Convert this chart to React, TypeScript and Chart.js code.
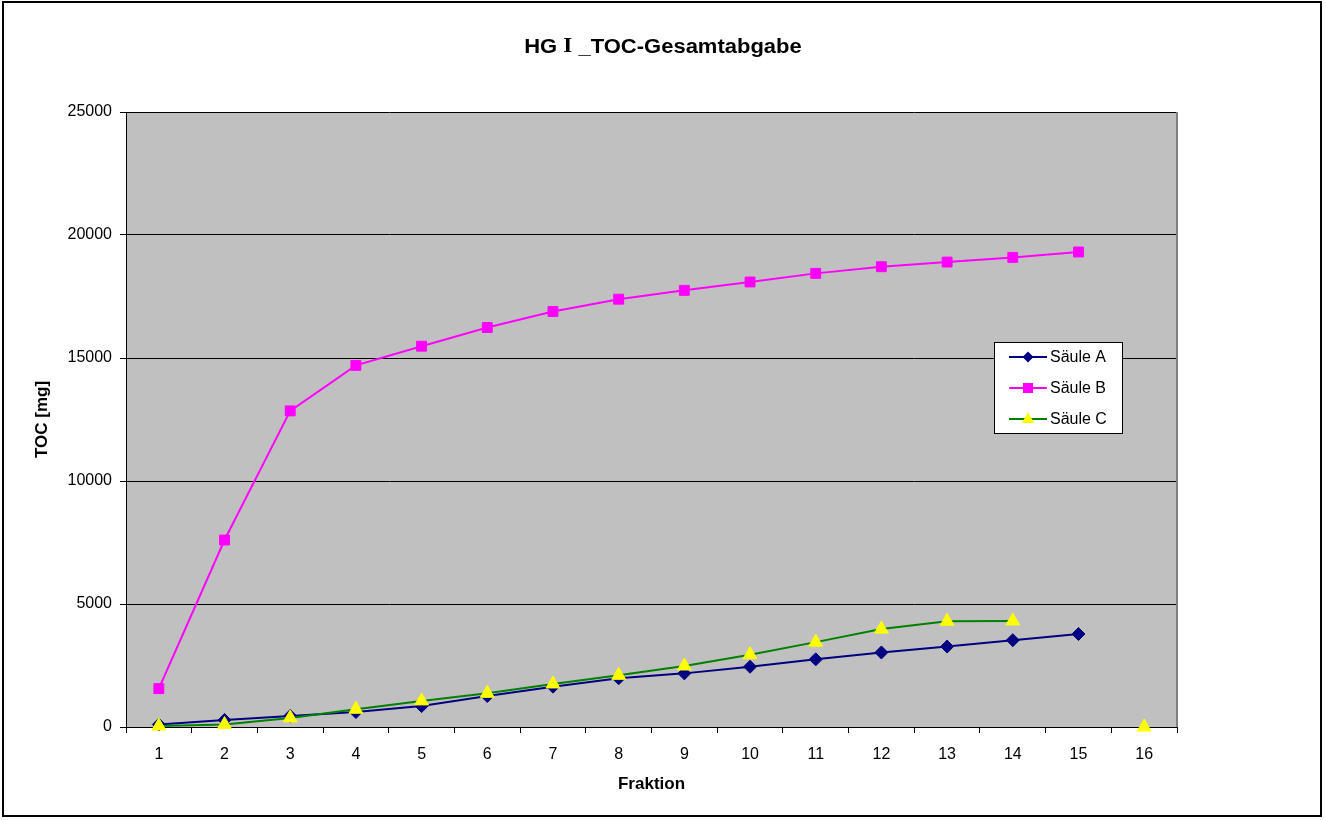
import React, { useEffect, useRef } from 'react';
import { Chart, registerables } from 'chart.js';

Chart.register(...registerables);

const categories = ['1', '2', '3', '4', '5', '6', '7', '8', '9', '10', '11', '12', '13', '14', '15', '16'];
const saeuleA = [100, 285, 450, 610, 850, 1260, 1640, 1980, 2180, 2450, 2750, 3030, 3270, 3530, 3780, null];
const saeuleB = [1560, 7600, 12850, 14700, 15480, 16240, 16890, 17390, 17750, 18090, 18440, 18710, 18900, 19090, 19310, null];
const saeuleC = [40, 100, 370, 720, 1060, 1370, 1750, 2100, 2480, 2940, 3450, 3980, 4300, 4310, null, 0];
const yTickValues = [0, 5000, 10000, 15000, 20000, 25000];
const seriesNames = ['Säule A', 'Säule B', 'Säule C'];
const titleParts = ['HG ', 'I', ' _TOC-Gesamtabgabe'];
const xTitle = 'Fraktion';
const yTitle = 'TOC [mg]';

const FONT = '"Liberation Sans", Arial, sans-serif';
const SERIF = '"Liberation Serif", "Times New Roman", serif';

const lineColors = ['#000080', '#FF00FF', '#008000'];
const markerColors = ['#000080', '#FF00FF', '#FFFF00'];
const markerStyles = ['rectRot', 'rect', 'triangle'];

function drawMarker(ctx: CanvasRenderingContext2D, style: string, x: number, y: number, color: string) {
  ctx.save();
  ctx.fillStyle = color;
  ctx.beginPath();
  if (style === 'rectRot') {
    const r = 5.5;
    ctx.moveTo(x, y - r);
    ctx.lineTo(x + r, y);
    ctx.lineTo(x, y + r);
    ctx.lineTo(x - r, y);
    ctx.closePath();
  } else if (style === 'rect') {
    const s = 5;
    ctx.rect(x - s, y - s, 2 * s, 2 * s);
  } else {
    const r = 6.5;
    ctx.moveTo(x, y - r);
    ctx.lineTo(x + r * 0.95, y + r * 0.6);
    ctx.lineTo(x - r * 0.95, y + r * 0.6);
    ctx.closePath();
  }
  ctx.fill();
  ctx.restore();
}

const framePlugin = {
  id: 'frame',
  beforeDraw(chart: any) {
    const { ctx, chartArea } = chart;
    ctx.save();
    ctx.fillStyle = '#FFFFFF';
    ctx.fillRect(0, 0, chart.width, chart.height);
    ctx.strokeStyle = '#000000';
    ctx.lineWidth = 2;
    ctx.strokeRect(3, 2, 1318, 814);
    ctx.fillStyle = '#C0C0C0';
    ctx.fillRect(chartArea.left, chartArea.top, chartArea.right - chartArea.left, chartArea.bottom - chartArea.top);
    ctx.restore();
  },
  beforeDatasetsDraw(chart: any) {
    const { ctx, chartArea } = chart;
    ctx.save();
    ctx.strokeStyle = '#808080';
    ctx.lineWidth = 2;
    ctx.beginPath();
    ctx.moveTo(chartArea.right, chartArea.top);
    ctx.lineTo(chartArea.right, chartArea.bottom);
    ctx.stroke();
    ctx.restore();
  },
  afterDraw(chart: any) {
    const { ctx } = chart;
    ctx.save();
    const fonts = [`bold 20px ${FONT}`, `bold 21px ${SERIF}`, `bold 20px ${FONT}`];
    let total = 0;
    const widths = titleParts.map((t, i) => {
      ctx.font = fonts[i];
      const w = ctx.measureText(t).width;
      total += w;
      return w;
    });
    const sx = 1.1;
    const cx = chart.width / 2;
    ctx.translate(cx, 47);
    ctx.scale(sx, 1);
    let x = -total / 2;
    ctx.fillStyle = '#000000';
    ctx.textBaseline = 'middle';
    ctx.textAlign = 'left';
    titleParts.forEach((t, i) => {
      ctx.font = fonts[i];
      ctx.fillText(t, x, 0);
      x += widths[i];
    });
    ctx.restore();
  },
};

const legendPlugin = {
  id: 'customLegend',
  afterDraw(chart: any) {
    const { ctx } = chart;
    const left = 994;
    const top = 342;
    const w = 128;
    const h = 91;
    ctx.save();
    ctx.fillStyle = '#FFFFFF';
    ctx.fillRect(left, top, w, h);
    ctx.strokeStyle = '#000000';
    ctx.lineWidth = 1;
    ctx.strokeRect(left + 0.5, top + 0.5, w, h);
    const rows = [357, 388, 419];
    seriesNames.forEach((name, i) => {
      const y = rows[i];
      ctx.strokeStyle = lineColors[i];
      ctx.lineWidth = 2;
      ctx.beginPath();
      ctx.moveTo(1009, y);
      ctx.lineTo(1047, y);
      ctx.stroke();
      drawMarker(ctx, markerStyles[i], 1028, y, markerColors[i]);
      ctx.fillStyle = '#000000';
      ctx.font = `16px ${FONT}`;
      ctx.textBaseline = 'middle';
      ctx.textAlign = 'left';
      ctx.fillText(name, 1050, y + 1);
    });
    ctx.restore();
  },
};

export default function App() {
  const canvasRef = useRef<HTMLCanvasElement | null>(null);

  useEffect(() => {
    if (!canvasRef.current) return;
    const radii = [6.5, 7, 8];
    const datasets = [saeuleA, saeuleB, saeuleC].map((data, i) => ({
      label: seriesNames[i],
      data,
      borderColor: lineColors[i],
      backgroundColor: markerColors[i],
      pointBackgroundColor: markerColors[i],
      pointBorderColor: markerColors[i],
      pointBorderWidth: 1,
      pointStyle: markerStyles[i],
      pointRadius: radii[i],
      borderWidth: 2,
      tension: 0,
      spanGaps: false,
      clip: false as any,
      order: 2 - i,
    }));

    const chart = new Chart(canvasRef.current, {
      type: 'line',
      data: { labels: categories, datasets },
      plugins: [framePlugin, legendPlugin],
      options: {
        animation: false,
        responsive: false,
        maintainAspectRatio: false,
        layout: { padding: { left: 0, right: 149, top: 112, bottom: 0 } },
        plugins: {
          legend: { display: false },
          tooltip: { enabled: false },
          title: { display: false },
        },
        scales: {
          x: {
            type: 'category',
            offset: true,
            grid: {
              display: true,
              offset: true,
              drawOnChartArea: false,
              drawTicks: true,
              tickLength: 6,
              color: '#000000',
              lineWidth: 1,
            },
            border: { display: true, color: '#000000', width: 1 },
            ticks: {
              color: '#000000',
              font: { family: FONT, size: 16 },
              padding: 12,
              autoSkip: false,
              maxRotation: 0,
            },
            title: {
              display: true,
              text: xTitle,
              color: '#000000',
              font: { family: FONT, size: 17, weight: 'bold' },
              padding: { top: 0, bottom: 25 },
            },
            afterFit(scale: any) {
              scale.height = 93;
            },
          },
          y: {
            type: 'linear',
            min: 0,
            max: 25000,
            afterBuildTicks(scale: any) {
              scale.ticks = yTickValues.map((v) => ({ value: v }));
            },
            grid: {
              display: true,
              drawOnChartArea: true,
              drawTicks: true,
              tickLength: 6,
              color: '#000000',
              lineWidth: 1,
            },
            border: { display: true, color: '#000000', width: 1 },
            ticks: {
              color: '#000000',
              font: { family: FONT, size: 16 },
              padding: 8,
              callback: (v: any) => String(v),
            },
            title: {
              display: true,
              text: yTitle,
              color: '#000000',
              font: { family: FONT, size: 17, weight: 'bold' },
              padding: { top: 32, bottom: 0 },
            },
            afterFit(scale: any) {
              scale.width = 126;
            },
          },
        },
      },
    } as any);

    return () => chart.destroy();
  }, []);

  return (
    <div style={{ position: 'fixed', left: 0, top: 0, width: 1326, height: 820, background: '#fff' }}>
      <canvas ref={canvasRef} width={1326} height={820} style={{ width: 1326, height: 820, display: 'block' }} />
    </div>
  );
}
